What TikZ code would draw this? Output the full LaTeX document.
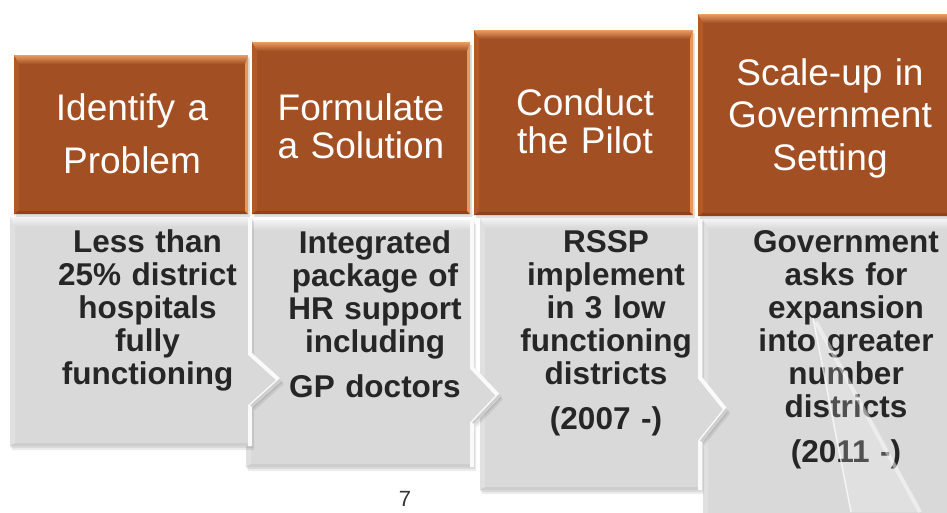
\documentclass[tikz,border=0pt]{standalone}
\usepackage{fontspec}
\setmainfont{Liberation Sans}

\definecolor{ofill}{HTML}{A34F24}
\definecolor{oleft}{HTML}{B05A2A}
\definecolor{obot}{HTML}{8E431D}
\definecolor{ohigh}{HTML}{E8985A}
\definecolor{otop}{HTML}{E99E63}
\definecolor{gfill}{HTML}{D9D9D9}
\definecolor{gleft}{HTML}{E0E0E0}
\definecolor{gbot}{HTML}{CDCDCD}
\definecolor{gtop}{HTML}{F4F4F4}
\definecolor{ghigh}{HTML}{FAFAFA}
\definecolor{gtxt}{HTML}{262626}
\definecolor{pgtxt}{HTML}{333333}

% grey bevelled panel: x1 y1 x2 y2, chevron top y, chevron tip x, chevron bottom y
\newcommand\grayblock[7]{%
  \def\gp{(#1,#2) -- (#3,#2) -- (#3,#5) -- (#6,{(#5+#7)/2}) -- (#3,#7) -- (#3,#4) -- (#1,#4) -- cycle}%
  \begin{scope}[shift={(2,4)}]\fill[black,opacity=.07] \gp;\end{scope}
  \begin{scope}[shift={(1,2)}]\fill[black,opacity=.08] \gp;\end{scope}
  \fill[gfill] \gp;
  \begin{scope}
    \clip \gp;
    \fill[gleft] (#1,#2) -- (#1+5,#2+5) -- (#1+5,#4-3) -- (#1,#4) -- cycle;
    \fill[gbot] (#1,#4) -- (#1+5,#4-3) -- (#3,#4-3) -- (#3,#4) -- cycle;
    \shade[top color=gtop,bottom color=gfill] (#1,#2) -- (#3,#2) -- (#3-4,#2+10) -- (#1+5,#2+10) -- cycle;
    \draw[ghigh,line width=8] (#3,#2) -- (#3,#5) -- (#6,{(#5+#7)/2}) -- (#3,#7) -- (#3,#4);
    \draw[gbot,line width=5] (#6,{(#5+#7)/2}) -- (#3,#7);
  \end{scope}
}

% orange bevelled header: x1 y1 x2 y2
\newcommand\orangeblock[4]{%
  \def\op{(#1,#2) rectangle (#3,#4)}%
  \begin{scope}[shift={(2,3)}]\fill[black,opacity=.12] \op;\end{scope}
  \fill[ofill] \op;
  \begin{scope}
    \clip \op;
    \fill[oleft] (#1,#2) -- (#1+5,#2+5) -- (#1+5,#4-4) -- (#1,#4) -- cycle;
    \fill[obot] (#1,#4) -- (#1+5,#4-3) -- (#3-3,#4-3) -- (#3,#4) -- cycle;
    \fill[ohigh] (#3,#2) -- (#3-3,#2+3) -- (#3-3,#4-3) -- (#3,#4) -- cycle;
    \shade[top color=otop,bottom color=ofill] (#1,#2) -- (#3,#2) -- (#3-3,#2+9) -- (#1+5,#2+9) -- cycle;
  \end{scope}
}

\begin{document}
\begin{tikzpicture}[x=1pt,y=-1pt,
  otext/.style={anchor=base,inner sep=0pt,text width=240pt,align=center,text=white},
  gtext/.style={anchor=base,inner sep=0pt,text width=220pt,align=center,text=gtxt,
                font=\bfseries\fontsize{31.5}{33}\selectfont}]
\useasboundingbox (0,0) rectangle (947,512);
\clip (0,0) rectangle (947,512);
\fill[white] (0,0) rectangle (947,512);

% lower panels, right to left so each chevron sits on its neighbour
\grayblock{703}{219}{965}{540}{400}{965}{400}
\grayblock{480}{218}{702}{490}{377}{728}{442}
\grayblock{246}{220}{474}{467}{367}{501}{424}
\grayblock{10}{217}{252}{446}{353}{282}{407}

% header steps
\orangeblock{14}{55}{248}{214}
\orangeblock{252}{42}{470}{214}
\orangeblock{474}{30}{693}{215}
\orangeblock{698}{14}{965}{216}

% header texts
\node[otext,font=\fontsize{37}{53}\selectfont] (p1) at (132,120) {Identify a\\Problem};
\node[otext,font=\fontsize{37}{38}\selectfont] (p2) at (361,120) {Formulate\\a Solution};
\node[otext,font=\fontsize{37}{38}\selectfont] (p3) at (585,115) {Conduct\\the Pilot};
\node[otext,font=\fontsize{37}{42.5}\selectfont] (p4) at (830,85) {Scale-up in\\Government\\Setting};

% panel texts
\node[gtext] (d1) at (147.5,252) {Less than\\25\% district\\hospitals\\fully\\functioning};
\node[gtext] (d2) at (375,253) {Integrated\\package of\\HR support\\including\\[12pt]GP doctors};
\node[gtext] (d3) at (606,252) {RSSP\\implement\\in 3 low\\functioning\\districts\\[12pt](2007 -)};
\node[gtext] (d4) at (846,252) {Government\\asks for\\expansion\\into greater\\number\\districts\\[12pt](2011 -)};

% light streak across the last panel
\fill[white,opacity=.2] (813,318) -- (851,512) -- (922,512) -- cycle;
\draw[white,opacity=.7,line width=1.5] (813,318) -- (851,512);
\draw[white,opacity=.45,line width=4] (816,322) -- (920,512);

% page number
\node[anchor=base,inner sep=0pt,font=\fontsize{22}{26}\selectfont,text=pgtxt] (pgnum) at (405,506) {7};
\end{tikzpicture}
\end{document}
